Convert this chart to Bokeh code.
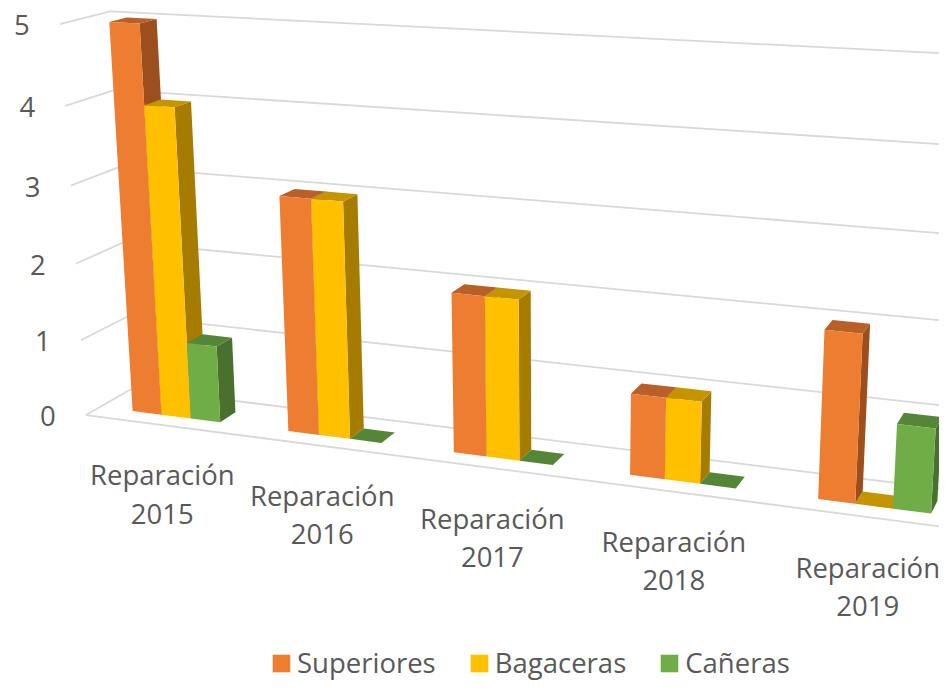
import numpy as np
from bokeh.core.properties import value
from bokeh.embed import file_html
from bokeh.models import Legend, LegendItem, Range1d
from bokeh.plotting import figure
from bokeh.resources import INLINE

categories = ["Reparación\n2015", "Reparación\n2016", "Reparación\n2017", "Reparación\n2018", "Reparación\n2019"]
series_names = ["Superiores", "Bagaceras", "Cañeras"]
superiores = [5, 3, 2, 1, 2]
bagaceras = [4, 3, 2, 1, 0]
caneras = [1, 0, 0, 0, 1]
y_ticks = [0, 1, 2, 3, 4, 5]

front_colors = ["#ED7D31", "#FFC000", "#70AD47"]
top_colors = ["#B95F28", "#C49500", "#558536"]
side_colors = ["#9C4F1C", "#A67C00", "#4A7030"]
GRID = "#D9D9D9"
TEXT = "#595959"
FONT = "Open Sans"

# Perspective camera: (category axis, depth 0..1, value) -> page pixels
BAR_START, BAR_W, D0, D1 = 0.215, 0.19, 0.30, 0.65
CALIB = [
    ((0, 0, 0), (85, 414)), ((0, 0, 5), (60, 23)),
    ((0, 1, 0), (133, 387)), ((0, 1, 5), (108, 11.3)),
    ((0.215, D0, 0), (131, 411)), ((1.215, D0, 0), (287, 431)), ((2.215, D0, 0), (453, 452)),
    ((3.215, D0, 0), (630, 475)), ((4.215, D0, 0), (817, 498)),
    ((0.215, D0, 5), (110, 21.7)), ((1.215, D0, 3), (279, 195)), ((2.215, D0, 2), (451, 294)),
    ((3.215, D0, 1), (630, 393)), ((4.215, D0, 2), (824, 329)),
    ((0.785, D0, 0), (220, 421.7)), ((0.785, D1, 0), (236.7, 411.6)),
    ((4.785, D0, 0), (931, 513)), ((4.785, D0, 1), (935, 428)),
    ((4.405, D0, 2), (862, 333)), ((4.405, D1, 2), (870, 323)),
]


def solve_camera(calib):
    rows = []
    for (u, d, h), (x, y) in calib:
        x, y = x / 1000, y / 1000
        rows.append([u, d, h, 1, 0, 0, 0, 0, -x * u, -x * d, -x * h, -x])
        rows.append([0, 0, 0, 0, u, d, h, 1, -y * u, -y * d, -y * h, -y])
    return np.linalg.svd(np.array(rows, float))[2][-1].reshape(3, 4)


CAM = solve_camera(CALIB)


def project(u, d, h):
    X, Y, W = CAM @ np.array([u, d, h, 1.0])
    return 1000 * X / W, 1000 * Y / W


def poly(points):
    pts = [project(*q) for q in points]
    return [q[0] for q in pts], [q[1] for q in pts]


p = figure(width=939, height=683, output_backend="svg", toolbar_location=None,
           x_range=Range1d(0, 939), y_range=Range1d(683, 0), min_border=0,
           outline_line_color=None, background_fill_color="white")
p.axis.visible = False
p.grid.visible = False

# gridlines
U_END = 5.4
for v in y_ticks:
    a, b = project(0, 0, v), project(0, 1, v)
    c = project(U_END, 1, v)
    p.line([a[0], b[0], c[0]], [a[1], b[1], c[1]], line_color=GRID, line_width=1.8)
a, c = project(0, 0, 0), project(U_END, 0, 0)
p.line([a[0], c[0]], [a[1], c[1]], line_color=GRID, line_width=1.8)

# bars
legend_items = []
for s, vals in enumerate([superiores, bagaceras, caneras]):
    fronts, tops, sides = ([], []), ([], []), ([], [])
    for i, v in enumerate(vals):
        u0 = i + BAR_START + s * BAR_W
        u1 = u0 + BAR_W
        for store, face in (
            (sides, [(u1, D0, 0), (u1, D1, 0), (u1, D1, v), (u1, D0, v)]),
            (tops, [(u0, D0, v), (u1, D0, v), (u1, D1, v), (u0, D1, v)]),
            (fronts, [(u0, D0, 0), (u1, D0, 0), (u1, D0, v), (u0, D0, v)]),
        ):
            xs, ys = poly(face)
            store[0].append(xs)
            store[1].append(ys)
    p.patches(sides[0], sides[1], fill_color=side_colors[s], line_color=None)
    p.patches(tops[0], tops[1], fill_color=top_colors[s], line_color=None)
    r = p.patches(fronts[0], fronts[1], fill_color=front_colors[s], line_color=None)
    legend_items.append(LegendItem(label=series_names[s], renderers=[r]))

# value labels
tick_pts = [project(0, 0, v) for v in y_ticks]
p.text([q[0] - 38 for q in tick_pts], [q[1] + 1 for q in tick_pts], text=[str(v) for v in y_ticks],
       text_font=value(FONT), text_font_size="27.5px", text_color=TEXT,
       text_align="center", text_baseline="middle")

# category labels
cat_pts = [project(i + 0.5, 0, 0) for i in range(len(categories))]
p.text([q[0] for q in cat_pts], [q[1] + 69 for q in cat_pts], text=categories,
       text_font=value(FONT), text_font_size="27.5px", text_color=TEXT,
       text_align="center", text_baseline="middle", text_line_height=1.03)

legend = Legend(items=legend_items, orientation="horizontal", location=(270, 2),
                border_line_color=None, background_fill_alpha=0, padding=0, margin=0,
                glyph_width=22, glyph_height=22, label_standoff=5, spacing=32,
                label_text_font=FONT, label_text_font_size="27.5px", label_text_color=TEXT)
p.add_layout(legend, "center")

open("out.html", "w").write(file_html(p, INLINE))
